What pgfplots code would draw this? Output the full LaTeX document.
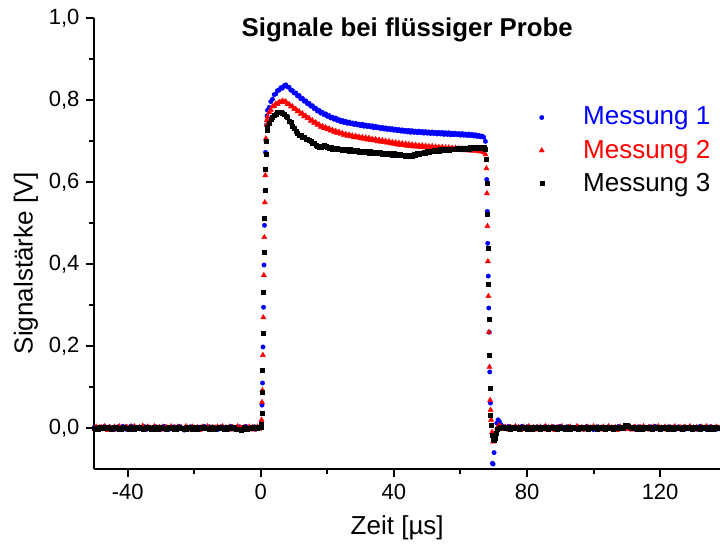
\documentclass[border=0pt]{standalone}
\usepackage{pgfplots}
\pgfplotsset{compat=1.18}
\usepackage{fontspec}
\setmainfont{Liberation Sans}
\begin{document}
\begin{tikzpicture}
\begin{axis}[
  at={(0pt,0pt)}, anchor=south west,
  scale only axis, width=312.75pt, height=225.25pt,
  xmin=-50, xmax=138, ymin=-0.1, ymax=1.0,
  axis x line*=bottom, axis y line*=left,
  axis line style={-, line width=1pt},
  tick align=outside,
  major tick length=4pt, minor tick length=2.5pt,
  every tick/.style={black, line width=1pt},
  xtick={-40,0,40,80,120}, xticklabels={-40,0,40,80,120},
  minor xtick={-20,20,60,100,140},
  ytick={0,0.2,0.4,0.6,0.8,1.0},
  yticklabels={{0,0},{0,2},{0,4},{0,6},{0,8},{1,0}},
  minor ytick={0.1,0.3,0.5,0.7,0.9},
  tick label style={font=\fontsize{11}{13}\selectfont},
  xlabel={Zeit [µs]}, ylabel={Signalstärke [V]},
  label style={font=\fontsize{13}{15}\selectfont},
  xlabel style={at={(axis description cs:0.484,-0.131)}, anchor=center},
  ylabel style={at={(axis description cs:-0.1095,0.457)}, anchor=center},
  title={Signale bei flüssiger Probe},
  title style={anchor=center, yshift=-11.5pt, font=\bfseries\fontsize{12.9}{14}\selectfont},
  legend style={draw=none, fill=none, at={(axis description cs:0.686,0.822)}, anchor=north west,
    font=\fontsize{13}{15}\selectfont, row sep=2pt},
  legend cell align=left,
  legend image code/.code={\path (0cm,0cm) (0.85cm,0cm); \draw[#1,mark repeat=2,mark phase=2] plot coordinates {(0cm,0cm)(0.2cm,0cm)(0.85cm,0cm)};},
  clip=true,
]
\addplot[only marks, color=blue, mark=*, mark size=1.1pt, mark options={line width=0.2pt}] coordinates {
(-50,0.002)(-49.5,-0.001)(-49,-0.003)(-48.5,0.002)(-48,0.001)(-47.5,-0.002)(-47,0.004)(-46.5,0.000)(-46,-0.002)(-45.5,0.003)(-45,0.000)(-44.5,-0.001)(-44,-0.004)(-43.5,0.001)(-43,0.003)(-42.5,-0.002)(-42,-0.001)(-41.5,0.004)(-41,0.002)(-40.5,-0.003)(-40,-0.002)(-39.5,0.001)(-39,0.005)(-38.5,0.000)(-38,-0.003)(-37.5,0.002)(-37,0.001)(-36.5,-0.002)(-36,-0.001)(-35.5,0.001)(-35,0.003)(-34.5,-0.004)(-34,0.000)(-33.5,0.002)(-33,-0.004)(-32.5,-0.001)(-32,0.002)(-31.5,0.003)(-31,0.001)(-30.5,-0.002)(-30,-0.003)(-29.5,0.000)(-29,0.004)(-28.5,0.001)(-28,-0.001)(-27.5,-0.003)(-27,0.000)(-26.5,0.002)(-26,0.003)(-25.5,-0.001)(-25,-0.002)(-24.5,0.004)(-24,0.001)(-23.5,-0.002)(-23,-0.005)(-22.5,0.000)(-22,0.002)(-21.5,-0.001)(-21,0.003)(-20.5,0.001)(-20,-0.001)(-19.5,-0.004)(-19,0.000)(-18.5,0.002)(-18,-0.003)(-17.5,0.001)(-17,0.004)(-16.5,-0.001)(-16,0.001)(-15.5,0.003)(-15,-0.002)(-14.5,-0.004)(-14,0.002)(-13.5,0.000)(-13,-0.004)(-12.5,0.001)(-12,0.003)(-11.5,-0.002)(-11,0.000)(-10.5,0.002)(-10,-0.001)(-9.5,-0.003)(-9,0.004)(-8.5,0.001)(-8,-0.002)(-7.5,0.000)(-7,0.001)(-6.5,0.003)(-6,-0.003)(-5.5,-0.001)(-5,0.002)(-4.5,0.004)(-4,0.000)(-3.5,-0.002)(-3,-0.002)(-2.5,0.001)(-2,0.003)(-1.5,-0.003)(-1,-0.001)(-0.5,0.002)(0,0.004)
(0.2,0.012)(0.35,0.056)(0.5,0.11)(0.65,0.198)(0.8,0.295)(0.95,0.398)(1.1,0.495)(1.25,0.58)(1.4,0.673)(1.55,0.70)(1.7,0.74)(1.85,0.762)
(2.0,0.776)(2.5,0.783)(3.0,0.797)(3.5,0.803)(4.0,0.814)(4.5,0.816)(5.0,0.824)(5.5,0.825)(6.0,0.831)(6.5,0.830)(7.0,0.836)(7.5,0.838)(8.0,0.833)(8.5,0.832)(9.0,0.825)(9.5,0.824)(10.0,0.818)(10.5,0.818)(11.0,0.811)(11.5,0.812)(12.0,0.804)(12.5,0.805)(13.0,0.798)(13.5,0.799)(14.0,0.792)(14.5,0.793)(15.0,0.786)(15.5,0.787)(16.0,0.780)(16.5,0.781)(17.0,0.774)(17.5,0.776)(18.0,0.769)(18.5,0.771)(19.0,0.765)(19.5,0.767)(20.0,0.761)(20.5,0.763)(21.0,0.757)(21.5,0.759)(22.0,0.754)(22.5,0.757)(23.0,0.751)(23.5,0.753)(24.0,0.748)(24.5,0.751)(25.0,0.746)(25.5,0.749)(26.0,0.744)(26.5,0.747)(27.0,0.743)(27.5,0.745)(28.0,0.741)(28.5,0.744)(29.0,0.740)(29.5,0.742)(30.0,0.738)(30.5,0.742)(31.0,0.737)(31.5,0.740)(32.0,0.736)(32.5,0.739)(33.0,0.735)(33.5,0.738)(34.0,0.733)(34.5,0.737)(35.0,0.733)(35.5,0.735)(36.0,0.731)(36.5,0.734)(37.0,0.730)(37.5,0.733)(38.0,0.729)(38.5,0.732)(39.0,0.728)(39.5,0.731)(40.0,0.727)(40.5,0.730)(41.0,0.726)(41.5,0.729)(42.0,0.725)(42.5,0.728)(43.0,0.724)(43.5,0.727)(44.0,0.723)(44.5,0.727)(45.0,0.722)(45.5,0.726)(46.0,0.722)(46.5,0.725)(47.0,0.721)(47.5,0.725)(48.0,0.721)(48.5,0.724)(49.0,0.720)(49.5,0.724)(50.0,0.720)(50.5,0.723)(51.0,0.719)(51.5,0.723)(52.0,0.719)(52.5,0.722)(53.0,0.718)(53.5,0.722)(54.0,0.718)(54.5,0.722)(55.0,0.717)(55.5,0.721)(56.0,0.717)(56.5,0.721)(57.0,0.716)(57.5,0.720)(58.0,0.716)(58.5,0.720)(59.0,0.716)(59.5,0.719)(60.0,0.715)(60.5,0.719)(61.0,0.715)(61.5,0.718)(62.0,0.714)(62.5,0.718)(63.0,0.714)(63.5,0.717)(64.0,0.713)(64.5,0.716)(65.0,0.712)(65.5,0.715)(66.0,0.711)(66.5,0.713)(67.0,0.710)(67.5,0.700)
(67.9,0.607)(68.05,0.529)(68.2,0.451)(68.35,0.371)(68.5,0.293)(68.65,0.234)(68.8,0.137)(69.0,0.061)(69.6,-0.086)(69.8,-0.088)(70.1,-0.06)(70.5,-0.02)(70.9,0.012)(71.3,0.02)(71.7,0.016)(72.1,0.009)(72.5,0.005)
(73,0.003)(73.5,0.001)(74,-0.001)(74.5,0.004)(75,0.002)(75.5,-0.002)(76,0.000)(76.5,0.003)(77,0.001)(77.5,-0.003)(78,0.002)(78.5,0.004)(79,-0.001)(79.5,0.000)(80,0.003)(80.5,-0.002)(81,0.001)(81.5,0.002)(82,-0.004)(82.5,0.000)(83,0.003)(83.5,-0.001)(84,0.002)(84.5,-0.003)(85,0.001)(85.5,0.004)(86,-0.002)(86.5,0.000)(87,0.002)(87.5,-0.001)(88,0.003)(88.5,-0.003)(89,0.001)(89.5,0.000)(90,0.004)(90.5,-0.002)(91,0.001)(91.5,-0.001)(92,0.003)(92.5,0.000)(93,-0.004)(93.5,0.002)(94,0.001)(94.5,-0.002)(95,0.003)(95.5,0.000)(96,-0.001)(96.5,0.002)(97,-0.003)(97.5,0.001)(98,0.004)(98.5,-0.002)(99,0.000)(99.5,0.002)(100,-0.004)(100.5,0.001)(101,0.003)(101.5,-0.001)(102,0.000)(102.5,0.002)(103,-0.003)(103.5,0.001)(104,-0.002)(104.5,0.003)(105,0.000)(105.5,-0.001)(106,0.002)(106.5,-0.003)(107,0.001)(107.5,0.004)(108,-0.001)(108.5,0.002)(109,0.000)(109.5,-0.002)(110,0.003)(110.5,0.001)(111,-0.002)(111.5,0.000)(112,0.002)(112.5,-0.003)(113,0.001)(113.5,0.003)(114,-0.001)(114.5,0.000)(115,-0.004)(115.5,0.002)(116,0.001)(116.5,-0.002)(117,0.003)(117.5,0.000)(118,-0.001)(118.5,0.004)(119,-0.002)(119.5,0.001)(120,0.000)(120.5,-0.003)(121,0.002)(121.5,0.001)(122,-0.001)(122.5,0.003)(123,-0.002)(123.5,0.000)(124,0.002)(124.5,-0.004)(125,0.001)(125.5,0.003)(126,-0.001)(126.5,0.000)(127,0.002)(127.5,-0.003)(128,0.001)(128.5,-0.002)(129,0.003)(129.5,0.000)(130,-0.001)(130.5,0.002)(131,-0.003)(131.5,0.001)(132,0.004)(132.5,-0.002)(133,0.000)(133.5,0.002)(134,-0.004)(134.5,0.001)(135,0.003)(135.5,-0.001)(136,0.000)(136.5,0.002)(137,-0.003)(137.5,0.001)(138,-0.002)
};
\addlegendentry{\textcolor{blue}{Messung 1}}
\addplot[only marks, color=red, mark=triangle*, mark size=1.5pt, mark options={line width=0.2pt}] coordinates {
(-50,-0.002)(-49.5,0.003)(-49,-0.004)(-48.5,0.001)(-48,0.002)(-47.5,-0.003)(-47,0.004)(-46.5,-0.001)(-46,-0.005)(-45.5,0.002)(-45,0.000)(-44.5,-0.002)(-44,0.003)(-43.5,-0.004)(-43,0.001)(-42.5,0.004)(-42,-0.003)(-41.5,0.000)(-41,-0.002)(-40.5,0.003)(-40,0.001)(-39.5,-0.005)(-39,0.002)(-38.5,-0.001)(-38,0.004)(-37.5,0.000)(-37,-0.003)(-36.5,0.002)(-36,-0.002)(-35.5,0.005)(-35,-0.004)(-34.5,0.001)(-34,0.003)(-33.5,-0.002)(-33,0.000)(-32.5,-0.005)(-32,0.004)(-31.5,0.001)(-31,-0.003)(-30.5,0.002)(-30,-0.001)(-29.5,0.003)(-29,-0.004)(-28.5,0.002)(-28,0.000)(-27.5,-0.003)(-27,0.004)(-26.5,-0.002)(-26,0.001)(-25.5,-0.004)(-25,0.003)(-24.5,-0.001)(-24,0.002)(-23.5,-0.003)(-23,0.000)(-22.5,0.004)(-22,-0.002)(-21.5,0.001)(-21,-0.004)(-20.5,0.003)(-20,0.000)(-19.5,-0.002)(-19,0.002)(-18.5,-0.005)(-18,0.001)(-17.5,0.003)(-17,-0.001)(-16.5,-0.003)(-16,0.004)(-15.5,0.000)(-15,-0.002)(-14.5,0.002)(-14,-0.004)(-13.5,0.001)(-13,0.003)(-12.5,-0.002)(-12,0.000)(-11.5,0.004)(-11,-0.003)(-10.5,0.001)(-10,-0.001)(-9.5,0.003)(-9,-0.004)(-8.5,0.002)(-8,0.000)(-7.5,-0.003)(-7,0.004)(-6.5,-0.002)(-6,0.001)(-5.5,-0.004)(-5,0.002)(-4.5,0.000)(-4,-0.002)(-3.5,0.003)(-3,-0.001)(-2.5,0.002)(-2,-0.004)(-1.5,0.001)(-1,0.003)(-0.5,-0.002)(0,0.005)
(0.2,0.02)(0.35,0.063)(0.45,0.092)(0.6,0.178)(0.75,0.27)(0.9,0.373)(1.05,0.466)(1.2,0.551)(1.35,0.617)(1.5,0.707)(1.7,0.74)(1.85,0.752)
(2.0,0.760)(2.5,0.771)(3.0,0.777)(3.5,0.785)(4.0,0.786)(4.5,0.792)(5.0,0.791)(5.5,0.796)(6.0,0.795)(6.5,0.799)(7.0,0.796)(7.5,0.797)(8.0,0.791)(8.5,0.791)(9.0,0.785)(9.5,0.785)(10.0,0.779)(10.5,0.779)(11.0,0.773)(11.5,0.773)(12.0,0.767)(12.5,0.768)(13.0,0.761)(13.5,0.762)(14.0,0.756)(14.5,0.757)(15.0,0.750)(15.5,0.751)(16.0,0.745)(16.5,0.746)(17.0,0.740)(17.5,0.741)(18.0,0.735)(18.5,0.737)(19.0,0.732)(19.5,0.734)(20.0,0.729)(20.5,0.731)(21.0,0.726)(21.5,0.728)(22.0,0.723)(22.5,0.725)(23.0,0.720)(23.5,0.723)(24.0,0.718)(24.5,0.720)(25.0,0.715)(25.5,0.718)(26.0,0.713)(26.5,0.716)(27.0,0.712)(27.5,0.714)(28.0,0.710)(28.5,0.713)(29.0,0.709)(29.5,0.711)(30.0,0.707)(30.5,0.710)(31.0,0.706)(31.5,0.709)(32.0,0.704)(32.5,0.708)(33.0,0.703)(33.5,0.706)(34.0,0.702)(34.5,0.705)(35.0,0.700)(35.5,0.704)(36.0,0.699)(36.5,0.702)(37.0,0.698)(37.5,0.701)(38.0,0.696)(38.5,0.700)(39.0,0.695)(39.5,0.698)(40.0,0.694)(40.5,0.697)(41.0,0.692)(41.5,0.696)(42.0,0.691)(42.5,0.695)(43.0,0.690)(43.5,0.694)(44.0,0.689)(44.5,0.693)(45.0,0.688)(45.5,0.692)(46.0,0.687)(46.5,0.691)(47.0,0.687)(47.5,0.690)(48.0,0.686)(48.5,0.690)(49.0,0.685)(49.5,0.689)(50.0,0.685)(50.5,0.688)(51.0,0.684)(51.5,0.688)(52.0,0.683)(52.5,0.687)(53.0,0.683)(53.5,0.686)(54.0,0.682)(54.5,0.686)(55.0,0.682)(55.5,0.685)(56.0,0.681)(56.5,0.685)(57.0,0.680)(57.5,0.684)(58.0,0.680)(58.5,0.684)(59.0,0.679)(59.5,0.683)(60.0,0.679)(60.5,0.682)(61.0,0.678)(61.5,0.682)(62.0,0.678)(62.5,0.681)(63.0,0.677)(63.5,0.681)(64.0,0.677)(64.5,0.680)(65.0,0.676)(65.5,0.679)(66.0,0.675)(66.5,0.677)(67.0,0.673)(67.5,0.668)
(67.8,0.634)(67.95,0.573)(68.1,0.493)(68.25,0.407)(68.4,0.322)(68.55,0.234)(68.7,0.149)(68.9,0.068)(69.05,0.044)(69.2,0.02)(69.5,-0.01)(69.8,-0.033)(70.2,-0.028)(70.6,-0.012)(71.0,0.000)(71.5,0.006)(72,0.004)(72.5,0.002)
(73,-0.002)(73.5,0.003)(74,0.000)(74.5,-0.004)(75,0.002)(75.5,0.001)(76,-0.003)(76.5,0.004)(77,-0.001)(77.5,0.002)(78,-0.005)(78.5,0.000)(79,0.003)(79.5,-0.002)(80,0.001)(80.5,0.004)(81,-0.003)(81.5,0.000)(82,0.002)(82.5,-0.004)(83,0.001)(83.5,-0.001)(84,0.003)(84.5,-0.002)(85,0.000)(85.5,0.004)(86,-0.004)(86.5,0.001)(87,-0.002)(87.5,0.003)(88,0.000)(88.5,-0.005)(89,0.002)(89.5,0.001)(90,-0.003)(90.5,0.004)(91,-0.001)(91.5,0.000)(92,-0.004)(92.5,0.002)(93,0.003)(93.5,-0.002)(94,0.000)(94.5,-0.003)(95,0.004)(95.5,0.001)(96,-0.002)(96.5,0.002)(97,-0.004)(97.5,0.000)(98,0.003)(98.5,-0.001)(99,0.001)(99.5,-0.003)(100,0.004)(100.5,-0.002)(101,0.000)(101.5,0.002)(102,-0.004)(102.5,0.001)(103,0.003)(103.5,-0.002)(104,0.000)(104.5,0.004)(105,-0.003)(105.5,0.001)(106,-0.001)(106.5,0.002)(107,-0.005)(107.5,0.000)(108,0.003)(108.5,-0.002)(109,0.001)(109.5,0.004)(110,-0.002)(110.5,0.000)(111,0.002)(111.5,-0.004)(112,0.001)(112.5,0.003)(113,-0.003)(113.5,0.000)(114,0.002)(114.5,-0.001)(115,0.004)(115.5,-0.003)(116,0.000)(116.5,0.002)(117,-0.004)(117.5,0.001)(118,0.003)(118.5,-0.002)(119,0.000)(119.5,0.004)(120,-0.003)(120.5,0.001)(121,-0.001)(121.5,0.003)(122,-0.004)(122.5,0.000)(123,0.002)(123.5,-0.002)(124,0.001)(124.5,0.004)(125,-0.003)(125.5,0.000)(126,0.002)(126.5,-0.004)(127,0.001)(127.5,0.003)(128,-0.002)(128.5,0.000)(129,0.004)(129.5,-0.003)(130,0.001)(130.5,-0.001)(131,0.002)(131.5,-0.004)(132,0.000)(132.5,0.003)(133,-0.002)(133.5,0.001)(134,0.004)(134.5,-0.003)(135,0.000)(135.5,0.002)(136,-0.004)(136.5,0.001)(137,0.003)(137.5,-0.002)(138,0.000)
};
\addlegendentry{\textcolor{red}{Messung 2}}
\addplot[only marks, color=black, mark=square*, mark size=1.0pt, mark options={line width=0.2pt}] coordinates {
(-50,0.000)(-49.5,-0.002)(-49,-0.002)(-48.5,0.001)(-48,0.002)(-47.5,-0.001)(-47,-0.001)(-46.5,0.002)(-46,0.003)(-45.5,0.000)(-45,-0.003)(-44.5,-0.001)(-44,0.001)(-43.5,0.002)(-43,0.000)(-42.5,-0.002)(-42,-0.002)(-41.5,0.001)(-41,0.003)(-40.5,0.000)(-40,-0.001)(-39.5,-0.003)(-39,0.001)(-38.5,0.002)(-38,-0.003)(-37.5,-0.001)(-37,0.002)(-36.5,0.001)(-36,0.000)(-35.5,-0.002)(-35,-0.001)(-34.5,0.002)(-34,0.002)(-33.5,0.000)(-33,-0.002)(-32.5,-0.003)(-32,0.001)(-31.5,0.002)(-31,-0.003)(-30.5,-0.001)(-30,0.002)(-29.5,0.000)(-29,0.000)(-28.5,-0.002)(-28,-0.001)(-27.5,0.001)(-27,0.003)(-26.5,0.000)(-26,-0.002)(-25.5,-0.002)(-25,0.001)(-24.5,0.002)(-24,0.000)(-23.5,-0.001)(-23,-0.002)(-22.5,-0.003)(-22,0.002)(-21.5,0.001)(-21,-0.001)(-20.5,-0.002)(-20,0.001)(-19.5,0.002)(-19,-0.003)(-18.5,-0.001)(-18,0.000)(-17.5,0.002)(-17,0.002)(-16.5,-0.001)(-16,-0.001)(-15.5,-0.003)(-15,0.001)(-14.5,0.001)(-14,-0.002)(-13.5,0.000)(-13,0.000)(-12.5,0.002)(-12,0.003)(-11.5,-0.001)(-11,-0.002)(-10.5,-0.002)(-10,0.001)(-9.5,0.000)(-9,-0.001)(-8.5,0.001)(-8,0.002)(-7.5,-0.002)(-7,-0.003)(-6.5,-0.002)(-6,-0.005)(-5.5,-0.004)(-5,0.001)(-4.5,0.000)(-4,-0.002)(-3.5,-0.001)(-3,0.000)(-2.5,0.002)(-2,0.002)(-1.5,-0.001)(-1,-0.001)(-0.5,0.001)(0,0.003)
(0.2,0.01)(0.3,0.037)(0.45,0.088)(0.55,0.141)(0.7,0.232)(0.85,0.332)(1.0,0.43)(1.15,0.512)(1.3,0.58)(1.45,0.632)(1.6,0.668)(1.75,0.70)(1.9,0.727)
(2.0,0.735)(2.5,0.744)(3.0,0.753)(3.5,0.758)(4.0,0.765)(4.5,0.767)(5.0,0.772)(5.5,0.771)(6.0,0.772)(6.5,0.768)(7.0,0.767)(7.5,0.761)(8.0,0.758)(8.5,0.750)(9.0,0.746)(9.5,0.737)(10.0,0.732)(10.5,0.724)(11.0,0.721)(11.5,0.716)(12.0,0.715)(12.5,0.711)(13.0,0.711)(13.5,0.706)(14.0,0.706)(14.5,0.702)(15.0,0.701)(15.5,0.696)(16.0,0.695)(16.5,0.690)(17.0,0.689)(17.5,0.685)(18.0,0.686)(18.5,0.688)(19.0,0.691)(19.5,0.687)(20.0,0.686)(20.5,0.683)(21.0,0.685)(21.5,0.682)(22.0,0.684)(22.5,0.681)(23.0,0.683)(23.5,0.680)(24.0,0.682)(24.5,0.679)(25.0,0.681)(25.5,0.678)(26.0,0.680)(26.5,0.677)(27.0,0.680)(27.5,0.676)(28.0,0.679)(28.5,0.675)(29.0,0.678)(29.5,0.674)(30.0,0.677)(30.5,0.674)(31.0,0.676)(31.5,0.673)(32.0,0.675)(32.5,0.672)(33.0,0.675)(33.5,0.671)(34.0,0.674)(34.5,0.671)(35.0,0.673)(35.5,0.670)(36.0,0.673)(36.5,0.669)(37.0,0.672)(37.5,0.669)(38.0,0.671)(38.5,0.668)(39.0,0.670)(39.5,0.667)(40.0,0.670)(40.5,0.666)(41.0,0.669)(41.5,0.665)(42.0,0.668)(42.5,0.665)(43.0,0.667)(43.5,0.664)(44.0,0.666)(44.5,0.663)(45.0,0.666)(45.5,0.664)(46.0,0.668)(46.5,0.666)(47.0,0.670)(47.5,0.668)(48.0,0.672)(48.5,0.670)(49.0,0.674)(49.5,0.672)(50.0,0.675)(50.5,0.673)(51.0,0.677)(51.5,0.675)(52.0,0.678)(52.5,0.676)(53.0,0.679)(53.5,0.677)(54.0,0.680)(54.5,0.678)(55.0,0.681)(55.5,0.679)(56.0,0.681)(56.5,0.679)(57.0,0.682)(57.5,0.680)(58.0,0.682)(58.5,0.680)(59.0,0.683)(59.5,0.681)(60.0,0.683)(60.5,0.681)(61.0,0.684)(61.5,0.682)(62.0,0.684)(62.5,0.682)(63.0,0.685)(63.5,0.683)(64.0,0.685)(64.5,0.683)(65.0,0.686)(65.5,0.684)(66.0,0.686)(66.5,0.684)(67.0,0.685)(67.5,0.680)
(67.8,0.656)(67.95,0.598)(68.1,0.522)(68.25,0.439)(68.4,0.351)(68.55,0.266)(68.7,0.178)(68.85,0.098)(69.0,0.032)(69.15,0.007)(69.4,-0.017)(69.7,-0.027)(70.0,-0.029)(70.3,-0.024)(70.7,-0.012)(71.1,-0.004)(71.5,0.000)(72,0.002)(72.5,0.001)
(73,0.001)(73.5,-0.001)(74,0.002)(74.5,0.000)(75,-0.002)(75.5,0.001)(76,0.002)(76.5,-0.001)(77,0.000)(77.5,-0.002)(78,0.002)(78.5,0.001)(79,-0.001)(79.5,0.002)(80,-0.002)(80.5,0.000)(81,0.001)(81.5,-0.002)(82,-0.001)(82.5,0.002)(83,0.000)(83.5,0.001)(84,-0.002)(84.5,0.002)(85,-0.001)(85.5,0.000)(86,0.002)(86.5,-0.002)(87,0.001)(87.5,-0.001)(88,0.000)(88.5,0.002)(89,-0.002)(89.5,0.001)(90,0.000)(90.5,-0.001)(91,0.002)(91.5,-0.002)(92,0.001)(92.5,0.000)(93,-0.002)(93.5,0.001)(94,0.002)(94.5,-0.001)(95,0.000)(95.5,-0.002)(96,0.002)(96.5,0.001)(97,-0.001)(97.5,0.000)(98,0.002)(98.5,-0.002)(99,0.001)(99.5,-0.001)(100,0.000)(100.5,0.002)(101,-0.002)(101.5,0.001)(102,0.000)(102.5,-0.001)(103,0.002)(103.5,-0.002)(104,0.001)(104.5,0.000)(105,-0.001)(105.5,0.002)(106,-0.002)(106.5,0.000)(107,0.001)(107.5,0.002)(108,-0.001)(108.5,0.000)(109,0.003)(109.5,0.006)(110,0.008)(110.5,0.004)(111,0.001)(111.5,-0.001)(112,0.000)(112.5,0.002)(113,-0.002)(113.5,0.001)(114,0.000)(114.5,-0.002)(115,0.002)(115.5,0.001)(116,-0.001)(116.5,0.000)(117,0.002)(117.5,-0.002)(118,0.001)(118.5,-0.001)(119,0.000)(119.5,0.002)(120,-0.002)(120.5,0.001)(121,0.000)(121.5,-0.001)(122,0.002)(122.5,-0.002)(123,0.001)(123.5,0.000)(124,-0.002)(124.5,0.001)(125,0.002)(125.5,-0.001)(126,0.000)(126.5,-0.002)(127,0.002)(127.5,0.001)(128,-0.001)(128.5,0.000)(129,0.002)(129.5,-0.002)(130,0.001)(130.5,-0.001)(131,0.000)(131.5,0.002)(132,-0.002)(132.5,0.001)(133,0.000)(133.5,-0.001)(134,0.002)(134.5,-0.002)(135,0.001)(135.5,0.000)(136,-0.002)(136.5,0.001)(137,0.002)(137.5,-0.001)(138,0.000)
};
\addlegendentry{Messung 3}
\end{axis}
\pgfresetboundingbox
\path[use as bounding box] (-47.25pt,-40.5pt) rectangle (312.75pt,234.5pt);
\end{tikzpicture}
\end{document}
